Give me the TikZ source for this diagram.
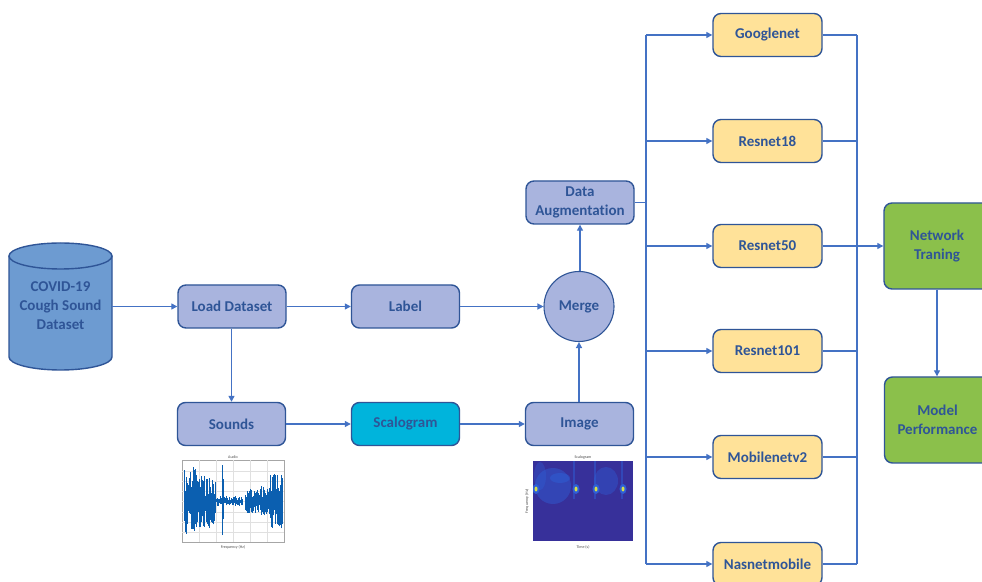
\documentclass[tikz,border=0pt]{standalone}
\usepackage{fontspec}
\setmainfont{Carlito}[Ligatures=NoCommon]
\usetikzlibrary{arrows.meta}
\definecolor{linec}{HTML}{4472C4}
\definecolor{edgec}{HTML}{2F5597}
\definecolor{txtc}{HTML}{2F5597}
\definecolor{lav}{HTML}{A9B4DE}
\definecolor{yel}{HTML}{FFE299}
\definecolor{grn}{HTML}{8BC04B}
\definecolor{cyn}{HTML}{00B4DC}
\definecolor{cylc}{HTML}{6D9BD1}
\definecolor{wavec}{HTML}{0B5FB0}
\definecolor{parula}{HTML}{37309A}
\definecolor{parmid}{HTML}{2F5FD6}
\definecolor{paryel}{HTML}{D6E04A}
\tikzset{
  box/.style={draw=edgec, line width=1.4pt, rounded corners=8pt,
    font=\bfseries\fontsize{15}{19}\selectfont, text=txtc, align=center,
    minimum width=108pt, minimum height=43pt, inner sep=0pt},
  lavbox/.style={box, fill=lav},
  yelbox/.style={box, fill=yel, minimum width=109pt},
  grnbox/.style={box, fill=grn, minimum width=106pt, minimum height=86pt},
  arr/.style={draw=linec, line width=1.3pt, -{Triangle[length=6pt,width=6pt]}},
  ln/.style={draw=linec, line width=1.3pt},
  wave/.style={draw=wavec, line width=0.5pt},
  tiny/.style={font=\fontsize{4}{4}\selectfont, text=black!70, inner sep=0pt}
}
\begin{document}
\begin{tikzpicture}[x=1pt,y=1pt]
\useasboundingbox (0,0) rectangle (982,581);
\clip (0,0) rectangle (982,581);
\fill[white] (0,0) rectangle (982,581);

% database cylinder
\fill[cylc] (9,325) -- (9,224) arc[start angle=180,end angle=360,x radius=51.5,y radius=13]
  -- (112,325) arc[start angle=0,end angle=180,x radius=51.5,y radius=13] -- cycle;
\draw[edgec, line width=1.4pt] (9,325) -- (9,224) arc[start angle=180,end angle=360,x radius=51.5,y radius=13]
  -- (112,325);
\draw[edgec, line width=1.4pt, fill=cylc] (60.5,325) ellipse[x radius=51.5, y radius=13];
\node (db) [minimum width=103pt, minimum height=100pt, inner sep=0pt, align=center,
  font=\bfseries\fontsize{15}{19}\selectfont, text=txtc] at (60.5,275)
  {COVID-19\\Cough Sound\\Dataset};

% left part
\node[lavbox] (load) at (232,274.5) {Load Dataset};
\node[lavbox] (label) at (405.5,274.5) {Label};
\node[circle, draw=edgec, line width=1.1pt, fill=lav, minimum size=70pt, inner sep=0pt,
  font=\bfseries\fontsize{15}{19}\selectfont, text=txtc] (merge) at (579,274.5) {Merge};
\node[lavbox] (aug) at (580,378.5) {Data\\Augmentation};
\node[lavbox] (sounds) at (231.5,157) {Sounds};
\node[box, fill=cyn] (scal) at (405.5,157) {Scalogram};
\node[lavbox] (image) at (579.5,157) {Image};

\draw[arr] (db.east |- load) -- (load.west);
\draw[arr] (load) -- (label);
\draw[arr] (label) -- (merge);
\draw[arr] (load.south -| sounds) -- (sounds.north);
\draw[arr] (sounds) -- (scal);
\draw[arr] (scal) -- (image);
\draw[arr] (image.north -| merge) -- (merge.south);
\draw[arr] (merge.north -| aug) -- (aug.south);

% models
\node[yelbox] (m1) at (767.5,546) {Googlenet};
\node[yelbox] (m2) at (767.5,440) {Resnet18};
\node[yelbox] (m3) at (767.5,335) {Resnet50};
\node[yelbox] (m4) at (767.5,230) {Resnet101};
\node[yelbox] (m5) at (767.5,124) {Mobilenetv2};
\node[yelbox] (m6) at (767.5,17) {Nasnetmobile};
\coordinate (bl) at (646,0);
\coordinate (br) at (857,0);
\draw[ln] (aug.east) -- (aug -| bl);
\draw[ln] (bl |- m1) -- (bl |- m6);
\draw[ln] (br |- m1) -- (br |- m6);
\foreach \m in {m1,m2,m3,m4,m5,m6} {
  \draw[arr] (bl |- \m) -- (\m.west);
  \draw[ln] (\m.east) -- (br |- \m);
}
\node[grnbox] (nt) at (937,335) {Network\\Traning};
\node[grnbox] (mp) at (937.5,161) {Model\\Performance};
\draw[arr] (m3.east) -- (nt.west);
\draw[arr] (nt.south) -- (nt.south |- mp.north);

% audio plot
\draw[black!35, line width=0.3pt] (182,39) rectangle (284,121);
\foreach \gx in {199,216,233,250,267} \draw[black!12, line width=0.3pt] (\gx,39) -- (\gx,121);
\foreach \gy in {49,59,69,80,90,100,110} \draw[black!12, line width=0.3pt] (182,\gy) -- (284,\gy);
\pgfmathsetseed{7}
\foreach \a/\b/\amp in {184/195/34, 195/215/27, 215/242/5, 245/258/12, 258/270/15, 270/282/28} {
  \pgfmathtruncatemacro\n{(\b-\a)/0.6}
  \foreach \i in {0,...,\n} {
    \pgfmathsetmacro\xx{\a+0.6*\i}
    \pgfmathsetmacro\u{\amp*(0.2+0.8*rnd)}
    \pgfmathsetmacro\d{\amp*(0.2+0.8*rnd)}
    \draw[wave] (\xx,80-\d) -- (\xx,80+\u);
  }
}
\foreach \xx/\u/\d in {222/36/30, 222.6/30/34, 223.2/22/18} \draw[wave] (\xx,80-\d) -- (\xx,80+\u);
\node[tiny] (atitle) at (233,124) {Audio};
\node[tiny] (axl) at (233,34) {Frequency (Hz)};

% scalogram plot
\fill[parula] (533,40) rectangle (633,120);
\begin{scope}
\clip (533,40) rectangle (633,120);
\fill[parmid, opacity=0.45] (553,95) ellipse[x radius=18, y radius=18];
\fill[parmid, opacity=0.5] (560,103) ellipse[x radius=10, y radius=5];
\fill[parmid, opacity=0.4] (606,100) ellipse[x radius=12, y radius=14];
\fill[parmid, opacity=0.35] (540,105) ellipse[x radius=6, y radius=14];
\foreach \sx in {573.5,595,622} \fill[parmid, opacity=0.5] (\sx-1,82) rectangle (\sx+1,120);
\foreach \sx in {536,576,596,623} {
  \fill[parmid] (\sx,92) ellipse[x radius=3.5, y radius=5];
  \fill[paryel] (\sx,92) ellipse[x radius=1.5, y radius=2.5];
}
\end{scope}
\node[tiny] (stitle) at (583,124) {Scalogram};
\node[tiny] (sxl) at (583,34) {Time (s)};
\node[tiny, rotate=90] (syl) at (527,80) {Frequency (Hz)};
\end{tikzpicture}
\end{document}
